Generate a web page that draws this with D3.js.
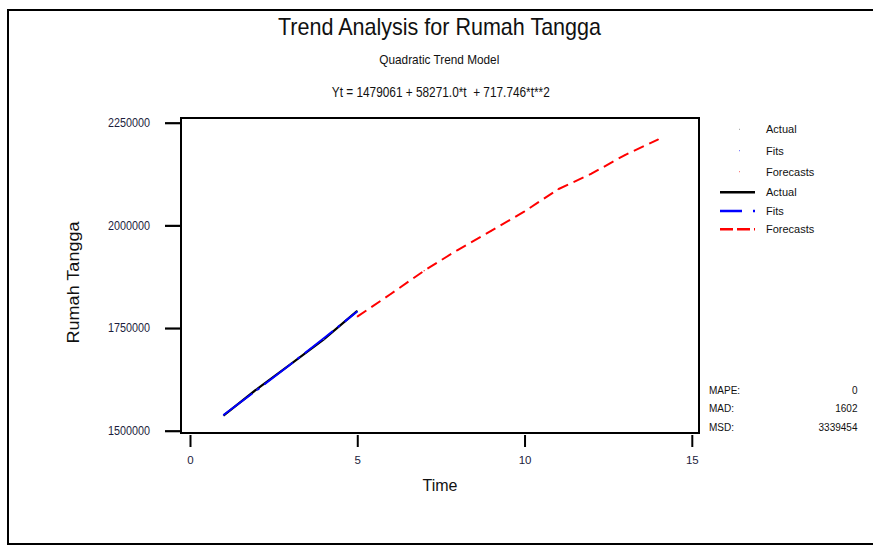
<!DOCTYPE html>
<html>
<head>
<meta charset="utf-8">
<script src="https://cdn.jsdelivr.net/npm/d3@7"></script>
<style>
  html, body { margin: 0; padding: 0; background: #fff; }
  svg { display: block; font-family: "Liberation Sans", Arial, sans-serif; }
</style>
</head>
<body>
<svg id="chart" width="873" height="546"></svg>
<script>
// Observed periods and values
const periods = [1, 2, 3, 4, 5];
const actualValues = [1536800, 1601500, 1661300, 1722500, 1791600];
const fitValues = [1538050, 1598950, 1661290, 1725060, 1790270];
const forecastPeriods = [5, 6, 7, 8, 9, 10, 11, 12, 13, 14];
const forecastValues = [1777600, 1832900, 1889600, 1940000, 1986300, 2034000, 2087800, 2125800, 2171300, 2209600];

const xTicks = [0, 5, 10, 15];
const yTicks = [1500000, 1750000, 2000000, 2250000];

const legendItems = ["Actual", "Fits", "Forecasts"];
const statNames = ["MAPE:", "MAD:", "MSD:"];
const statValues = ["0", "1602", "3339454"];

const titleText = "Trend Analysis for Rumah Tangga";
const subtitleText = "Quadratic Trend Model";
const equationText = "Yt = 1479061 + 58271.0*t  + 717.746*t**2";

const svg = d3.select("#chart");

// Outer frame (open on the right side)
svg.append("rect")
  .attr("x", 8).attr("y", 10).attr("width", 900).attr("height", 534)
  .attr("fill", "none").attr("stroke", "#000").attr("stroke-width", 2);

// Plot geometry
const plot = { left: 181, top: 118, right: 699, bottom: 433 };
const x = d3.scaleLinear().domain([0, 15]).range([190, 691.8]);
const y = d3.scaleLinear().domain([1500000, 2250000]).range([430.7, 122.7]);

// Titles
svg.append("text").attr("x", 439.5).attr("y", 35)
  .attr("text-anchor", "middle").attr("font-size", 24).attr("fill", "#111")
  .attr("textLength", 323).attr("lengthAdjust", "spacingAndGlyphs")
  .text(titleText);
svg.append("text").attr("x", 439.3).attr("y", 64)
  .attr("text-anchor", "middle").attr("font-size", 13.5).attr("fill", "#111")
  .attr("textLength", 120).attr("lengthAdjust", "spacingAndGlyphs")
  .text(subtitleText);
svg.append("text").attr("x", 440.8).attr("y", 96.5)
  .attr("text-anchor", "middle").attr("font-size", 14).attr("fill", "#111")
  .attr("textLength", 218).attr("lengthAdjust", "spacingAndGlyphs")
  .style("white-space", "pre")
  .text(equationText);

// Plot frame
svg.append("rect")
  .attr("x", plot.left).attr("y", plot.top)
  .attr("width", plot.right - plot.left).attr("height", plot.bottom - plot.top)
  .attr("fill", "none").attr("stroke", "#000").attr("stroke-width", 2);

// Y axis ticks and labels
const yAxis = d3.axisLeft(y).tickValues(yTicks).tickSize(16).tickPadding(15)
  .tickFormat(d3.format("d"));
const gy = svg.append("g").attr("transform", `translate(${plot.left},0)`).call(yAxis);
gy.select(".domain").remove();
gy.selectAll(".tick line").attr("stroke", "#000").attr("stroke-width", 2.2);
gy.selectAll(".tick text")
  .attr("font-size", 12).attr("fill", "#1c1c3c")
  .attr("font-family", "'Liberation Sans', Arial, sans-serif")
  .attr("textLength", 42).attr("lengthAdjust", "spacingAndGlyphs");

// X axis ticks and labels (set slightly below the frame)
const xAxis = d3.axisBottom(x).tickValues(xTicks).tickSize(12).tickPadding(9)
  .tickFormat(d3.format("d"));
const gx = svg.append("g").attr("transform", "translate(0,435)").call(xAxis);
gx.select(".domain").remove();
gx.selectAll(".tick line").attr("stroke", "#000").attr("stroke-width", 2);
gx.selectAll(".tick text")
  .attr("font-size", 11.5).attr("fill", "#1c1c3c")
  .attr("font-family", "'Liberation Sans', Arial, sans-serif");

// Axis titles
svg.append("text").attr("x", 440).attr("y", 491)
  .attr("text-anchor", "middle").attr("font-size", 16).attr("fill", "#111")
  .text("Time");
svg.append("text")
  .attr("transform", "translate(79,282.5) rotate(-90)")
  .attr("text-anchor", "middle").attr("font-size", 16).attr("fill", "#111")
  .attr("textLength", 122).attr("lengthAdjust", "spacingAndGlyphs")
  .text("Rumah Tangga");

// Series lines
const line = d3.line().x(d => x(d[0])).y(d => y(d[1]));
const actualPts = periods.map((t, i) => [t, actualValues[i]]);
const fitPts = periods.map((t, i) => [t, fitValues[i]]);
const forecastPts = forecastPeriods.map((t, i) => [t, forecastValues[i]]);

svg.append("path").datum(actualPts).attr("d", line)
  .attr("fill", "none").attr("stroke", "#000").attr("stroke-width", 2.2);
svg.append("path").datum(fitPts).attr("d", line)
  .attr("fill", "none").attr("stroke", "#0000ff").attr("stroke-width", 2)
  .attr("stroke-dasharray", "36,6,3,6");
svg.append("path").datum(forecastPts).attr("d", line)
  .attr("fill", "none").attr("stroke", "#ff0000").attr("stroke-width", 2)
  .attr("stroke-dasharray", "11,6");

// Tiny point symbols
const symbolSets = [
  { pts: actualPts, color: "#888" },
  { pts: fitPts, color: "#0000ff" },
  { pts: forecastPts, color: "#ff0000" }
];
symbolSets.forEach(s => {
  svg.append("g").selectAll("circle").data(s.pts).join("circle")
    .attr("cx", d => x(d[0])).attr("cy", d => y(d[1])).attr("r", 0.6)
    .attr("fill", s.color);
});

// Legend: symbols
const symColors = ["#999", "#6666ff", "#ff6666"];
const symRows = [129.3, 150.7, 171.7];
legendItems.forEach((name, i) => {
  svg.append("rect").attr("x", 739).attr("y", symRows[i] - 0.5)
    .attr("width", 1).attr("height", 1).attr("fill", symColors[i]);
  svg.append("text").attr("x", 766).attr("y", symRows[i] + 4)
    .attr("font-size", 11).attr("fill", "#111").text(name);
});

// Legend: lines
const lineRows = [192.3, 211, 229.3];
svg.append("line").attr("x1", 720).attr("x2", 755).attr("y1", lineRows[0]).attr("y2", lineRows[0])
  .attr("stroke", "#000").attr("stroke-width", 2.5);
svg.append("line").attr("x1", 720).attr("x2", 755).attr("y1", lineRows[1]).attr("y2", lineRows[1])
  .attr("stroke", "#0000ff").attr("stroke-width", 2.5).attr("stroke-dasharray", "22,11,2,20");
svg.append("line").attr("x1", 720).attr("x2", 755).attr("y1", lineRows[2]).attr("y2", lineRows[2])
  .attr("stroke", "#ff0000").attr("stroke-width", 2.5).attr("stroke-dasharray", "13,4");
legendItems.forEach((name, i) => {
  svg.append("text").attr("x", 766).attr("y", lineRows[i] + 4)
    .attr("font-size", 11).attr("fill", "#111").text(name);
});

// Accuracy measures
const statRows = [390, 408.5, 427.3];
statNames.forEach((name, i) => {
  svg.append("text").attr("x", 709).attr("y", statRows[i] + 3.5)
    .attr("font-size", 10).attr("fill", "#111").text(name);
  svg.append("text").attr("x", 857.5).attr("y", statRows[i] + 3.5)
    .attr("text-anchor", "end").attr("font-size", 10).attr("fill", "#111")
    .text(statValues[i]);
});
</script>
</body>
</html>
